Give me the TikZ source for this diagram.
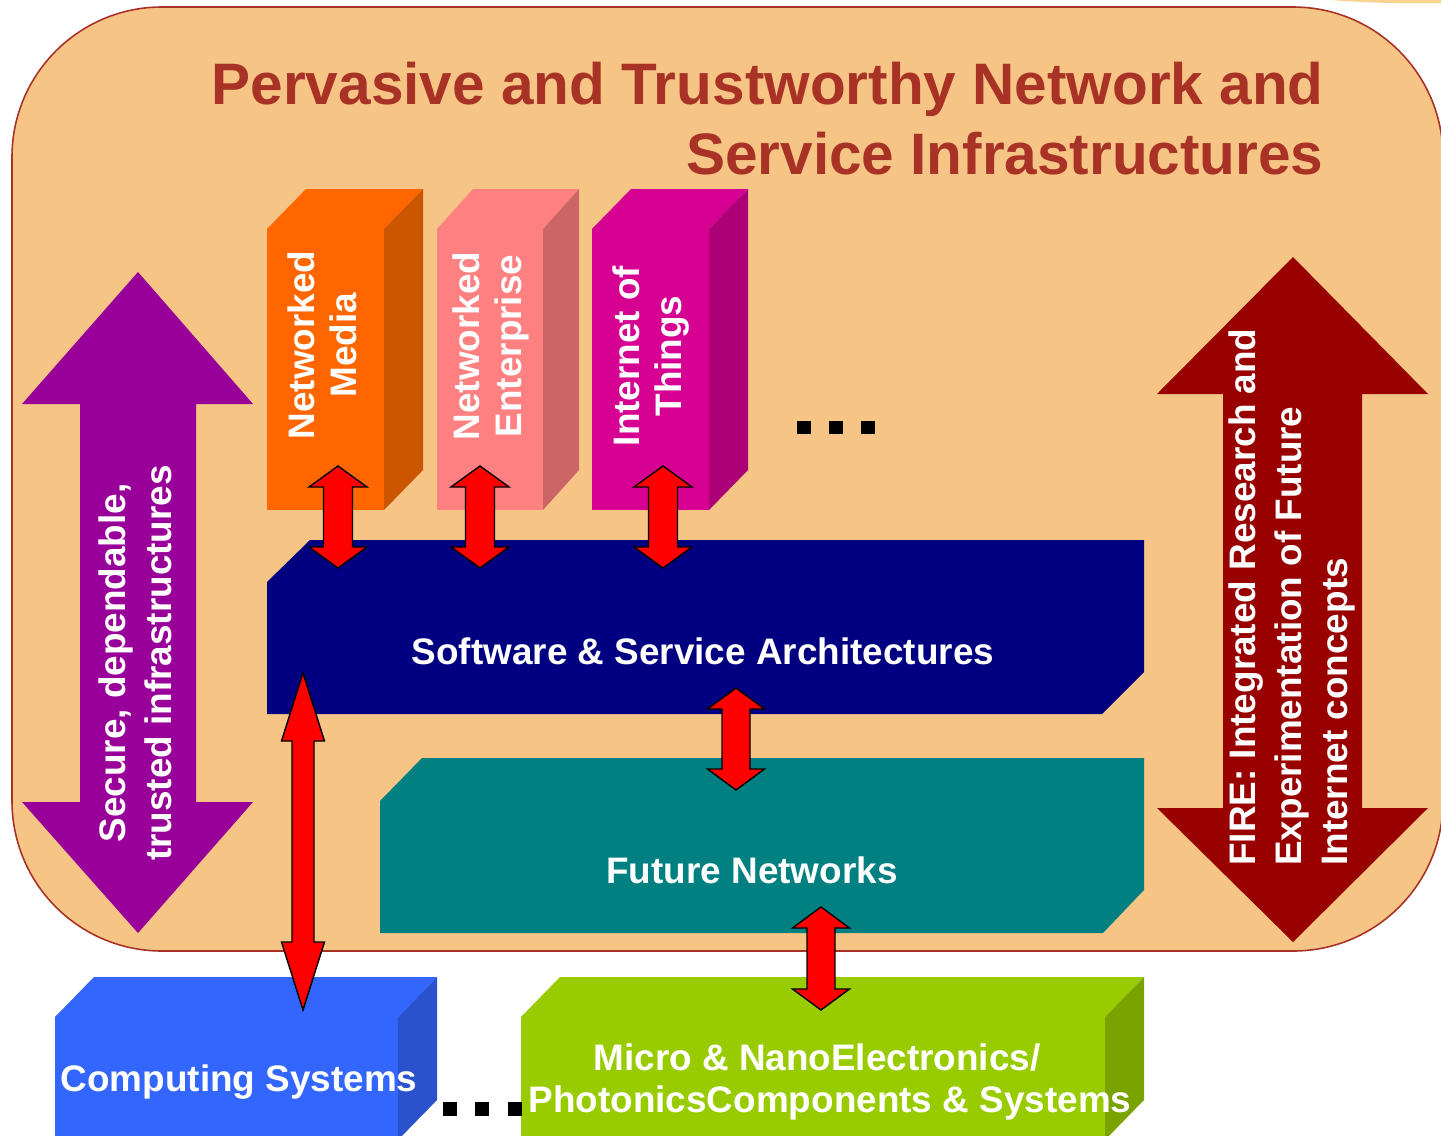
\documentclass[tikz,border=0pt]{standalone}
\usepackage{fontspec}
\setmainfont{Liberation Sans}
\usetikzlibrary{calc}
\definecolor{bgfill}{HTML}{F6C586}
\definecolor{bgline}{HTML}{A93226}
\definecolor{titlec}{HTML}{A93226}
\definecolor{topstrip}{HTML}{FAD28F}
\definecolor{nmfront}{HTML}{FF6600}
\definecolor{nmside}{HTML}{CC5500}
\definecolor{nefront}{HTML}{FF8080}
\definecolor{neside}{HTML}{CC6666}
\definecolor{iotfront}{HTML}{D60093}
\definecolor{iotside}{HTML}{AB0076}
\definecolor{navyc}{HTML}{000080}
\definecolor{tealc}{HTML}{008080}
\definecolor{csfront}{HTML}{3366FF}
\definecolor{csside}{HTML}{2952CC}
\definecolor{mnfront}{HTML}{99CC00}
\definecolor{mnside}{HTML}{7AA300}
\definecolor{purplec}{HTML}{990099}
\definecolor{firec}{HTML}{990000}
\definecolor{arrred}{HTML}{FF0000}
% front top-left (x1,y1), front bottom-right (x2,y2), depth dx, dy, front colour, side colour
\newcommand\prismbox[8]{%
  \fill[#7] (#1,#2) rectangle (#3,#4);
  \fill[#7] (#1,#2) -- (#1+#5,#2-#6) -- (#3+#5,#2-#6) -- (#3,#2) -- cycle;
  \fill[#8] (#3,#2) -- (#3+#5,#2-#6) -- (#3+#5,#4-#6) -- (#3,#4) -- cycle;}
% double arrow: top tip, bottom tip, head half width, head length, shaft half width
\newcommand\dblarrow[5]{%
  \draw[redarrow] (#1) -- ($(#1)+(#3,#4)$) -- ($(#1)+(#5,#4)$) -- ($(#2)+(#5,-#4)$)
    -- ($(#2)+(#3,-#4)$) -- (#2) -- ($(#2)+(-#3,-#4)$) -- ($(#2)+(-#5,-#4)$)
    -- ($(#1)+(-#5,#4)$) -- ($(#1)+(-#3,#4)$) -- cycle;}
\begin{document}
\begin{tikzpicture}[x=0.02cm,y=-0.02cm,
  lbl/.style={text=white, font=\bfseries\fontsize{21pt}{23.8pt}\selectfont, inner sep=0pt, align=center},
  biglbl/.style={text=white, font=\bfseries\fontsize{21pt}{26pt}\selectfont, inner sep=0pt},
  titlelbl/.style={text=titlec, font=\bfseries\fontsize{33.3pt}{39.7pt}\selectfont, inner sep=0pt, align=right},
  redarrow/.style={fill=arrred, draw=black, line width=0.8pt, line join=miter},
  dotsq/.style={fill=black}]
\useasboundingbox (0,0) rectangle (1441,1136);
\clip (0,0) rectangle (1441,1136);
\fill[white] (0,0) rectangle (1441,1136);
\fill[topstrip] (1290,-5) .. controls (1330,2) and (1390,4) .. (1445,3) -- (1445,-5) -- cycle;
% background panel
\draw[fill=bgfill, draw=bgline, line width=0.9pt, rounded corners=3cm] (12,7) rectangle (1443,951);
% title
\node[titlelbl, anchor=north east] (title) at (1324,62) {Pervasive and Trustworthy Network and\\Service Infrastructures};
% left purple arrow
\fill[purplec] (138,272) -- (253,404) -- (196,404) -- (196,802) -- (253,802) -- (138,933)
  -- (22,802) -- (80,802) -- (80,404) -- (22,404) -- cycle;
\node[biglbl, rotate=90, align=center] (secure) at (135,663) {Secure, dependable,\\trusted infrastructures};
% right FIRE arrow
\fill[firec] (1293,257) -- (1428,394) -- (1362,394) -- (1362,808) -- (1428,808) -- (1293,942)
  -- (1157,808) -- (1223,808) -- (1223,394) -- (1157,394) -- cycle;
\node[biglbl, rotate=90, align=left, anchor=west] (fire) at (1292,866) {FIRE: Integrated Research and\\Experimentation of Future\\Internet concepts};
% top application boxes
\prismbox{267}{229}{384}{510}{39}{40}{nmfront}{nmside}
\prismbox{437}{229}{543}{510}{36}{40}{nefront}{neside}
\prismbox{592}{229}{709}{510}{39}{40}{iotfront}{iotside}
\node[lbl, rotate=90] (nm) at (322,345) {Networked\\Media};
\node[lbl, rotate=90] (ne) at (491,346) {Networked\\Enterprise};
\node[lbl, rotate=90] (iot) at (651,356) {Internet of\\Things};
\fill[dotsq] (797,421) rectangle ++(14,13);
\fill[dotsq] (829,421) rectangle ++(14,13);
\fill[dotsq] (861,421) rectangle ++(14,13);
% software layer
\fill[navyc] (267,582) -- (310,540) -- (1144,540) -- (1144,672) -- (1102,714) -- (267,714) -- cycle;
\node[lbl] (soft) at (703,651) {Software \& Service Architectures};
% future networks layer
\fill[tealc] (380,801) -- (422,758) -- (1144,758) -- (1144,890) -- (1103,933) -- (380,933) -- cycle;
\node[lbl] (fn) at (752,870) {Future Networks};
% bottom boxes
\prismbox{55}{1017}{398}{1140}{39}{40}{csfront}{csside}
\prismbox{521}{1017}{1105}{1140}{39}{40}{mnfront}{mnside}
\node[lbl] (cs) at (239,1082) {Computing Systems};
\node[lbl, font=\bfseries\fontsize{21pt}{24.4pt}\selectfont] (mn) at (830,1082) {Micro \& NanoElectronics/\hspace*{0.52cm}\\PhotonicsComponents \& Systems};
\fill[dotsq] (443,1102) rectangle ++(14,14);
\fill[dotsq] (475,1102) rectangle ++(14,14);
\fill[dotsq] (508,1102) rectangle ++(14,14);
% connector end points
\coordinate (nm-a) at (338,466); \coordinate (nm-b) at (338,568);
\coordinate (ne-a) at (480,466); \coordinate (ne-b) at (480,568);
\coordinate (iot-a) at (663,466); \coordinate (iot-b) at (663,568);
\coordinate (soft-a) at (736,688); \coordinate (fn-b) at (736,790);
\coordinate (fn-a) at (821,907); \coordinate (mn-b) at (821,1010);
\coordinate (soft-c) at (303,673); \coordinate (cs-b) at (303,1010);
% red double arrows
\dblarrow{nm-a}{nm-b}{29}{21}{14.5}
\dblarrow{ne-a}{ne-b}{29}{21}{14.5}
\dblarrow{iot-a}{iot-b}{29}{21}{14.5}
\dblarrow{soft-a}{fn-b}{28.5}{21}{14}
\dblarrow{fn-a}{mn-b}{28.5}{21}{14}
\dblarrow{soft-c}{cs-b}{21.5}{68}{11}
\end{tikzpicture}
\end{document}
